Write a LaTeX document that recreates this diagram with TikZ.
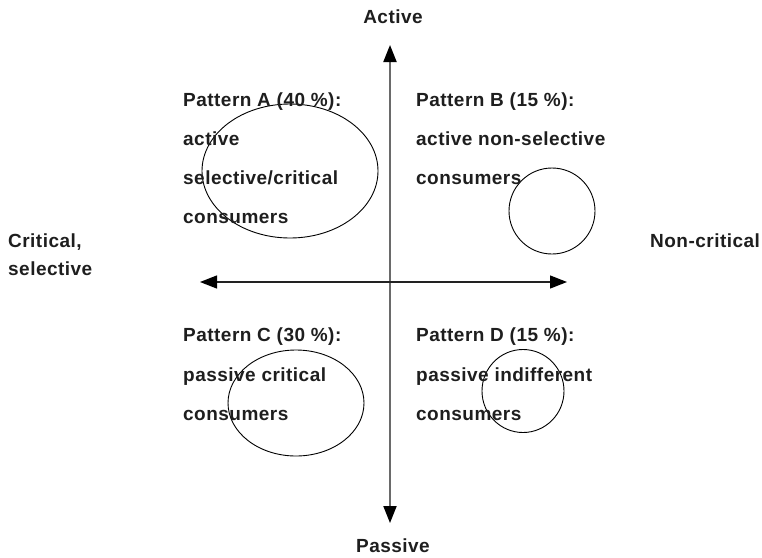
\documentclass[tikz,border=0pt]{standalone}
\usepackage{fontspec}
\setmainfont{Liberation Sans}[LetterSpace=2.5]
\usetikzlibrary{arrows.meta,shapes.geometric}
\definecolor{txt}{HTML}{1E1E1E}
\definecolor{vaxis}{HTML}{6A6A6A}
\definecolor{haxis}{HTML}{222222}
\tikzset{
  lbl/.style={font=\fontsize{19}{22}\selectfont\bfseries, text=txt, inner sep=0pt, anchor=base west},
  lblc/.style={lbl, anchor=base},
  vaxisline/.style={draw=vaxis, line width=2pt, {Triangle[length=17pt,width=13pt,color=black]}-{Triangle[length=17pt,width=13pt,color=black]}},
  haxisline/.style={draw=haxis, line width=1.3pt, {Triangle[length=17pt,width=13pt,color=black]}-{Triangle[length=17pt,width=13pt,color=black]}},
  blob/.style={ellipse, draw=black, line width=0.9pt, inner sep=0pt}
}
\begin{document}
\begin{tikzpicture}[x=1pt,y=-1pt]
\useasboundingbox (0,0) rectangle (762,557);
% axes
\coordinate (top) at (390,45);
\coordinate (bot) at (390,523);
\coordinate (lft) at (200,282);
\coordinate (rgt) at (567,282);
\draw[vaxisline] (bot) -- (top);
\draw[haxisline] (lft) -- (rgt);
% ellipses
\node[blob, minimum width=176pt, minimum height=134pt] (eA) at (290,171) {};
\node[blob, minimum width=86pt, minimum height=86pt] (eB) at (552,211) {};
\node[blob, minimum width=136pt, minimum height=106pt] (eC) at (296,403) {};
\node[blob, minimum width=82pt, minimum height=83pt] (eD) at (523,391) {};
% axis labels
\node[lblc] (active) at (393,23) {Active};
\node[lblc] (passive) at (393,552) {Passive};
\node[lbl] (crit1) at (8,247) {Critical,};
\node[lbl] (crit2) at (8,275) {selective};
\node[lbl] (noncrit) at (650,247) {Non-critical};
% pattern A
\node[lbl] (a1) at (183,106) {Pattern A (40 \%):};
\node[lbl] (a2) at (183,145) {active};
\node[lbl] (a3) at (183,184) {selective/critical};
\node[lbl] (a4) at (183,223) {consumers};
% pattern B
\node[lbl] (b1) at (416,106) {Pattern B (15 \%):};
\node[lbl] (b2) at (416,145) {active non-selective};
\node[lbl] (b3) at (416,184) {consumers};
% pattern C
\node[lbl] (c1) at (183,341) {Pattern C (30 \%):};
\node[lbl] (c2) at (183,381) {passive critical};
\node[lbl] (c3) at (183,420) {consumers};
% pattern D
\node[lbl] (d1) at (416,341) {Pattern D (15 \%):};
\node[lbl] (d2) at (416,381) {passive indifferent};
\node[lbl] (d3) at (416,420) {consumers};
\end{tikzpicture}
\end{document}
